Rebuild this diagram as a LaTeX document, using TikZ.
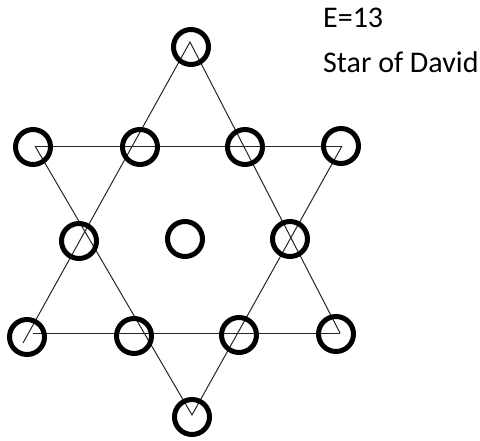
\documentclass[tikz,border=0pt]{standalone}
\usepackage{fontspec}
\setmainfont{Carlito}
\begin{document}
\begin{tikzpicture}[x=1pt,y=-1pt,
  ring/.style={circle,draw=black,line width=5pt,minimum size=35pt,inner sep=0pt},
  edge/.style={draw=black!85,line width=1pt},
  label/.style={anchor=base west,inner sep=0pt,font=\fontsize{30}{36}\selectfont}]
\useasboundingbox[fill=white] (0,0) rectangle (480,440);
% triangle vertices
\coordinate (ua) at (190,42);
\coordinate (ul) at (23,343);
\coordinate (ur) at (340,333);
\coordinate (bl) at (33,333);
\coordinate (dl) at (35,146);
\coordinate (dr) at (342,146);
\coordinate (db) at (192,415);
% star edges
\draw[edge] (ul) -- (ua) -- (ur);
\draw[edge] (bl) -- (ur);
\draw[edge] (dl) -- (dr);
\draw[edge] (dl) -- (db) -- (dr);
% rings
\node[ring] (c1) at (191,47) {};
\node[ring] (c2) at (33,147) {};
\node[ring] (c3) at (140,147) {};
\node[ring] (c4) at (245,147) {};
\node[ring] (c5) at (341,146) {};
\node[ring] (c6) at (79,241) {};
\node[ring] (c7) at (185,239) {};
\node[ring] (c8) at (290,239) {};
\node[ring] (c9) at (27,337) {};
\node[ring] (c10) at (134,336) {};
\node[ring] (c11) at (239,335) {};
\node[ring] (c12) at (336,334) {};
\node[ring] (c13) at (192,417) {};
% text
\node[label] (t1) at (323,27) {E=13};
\node[label] (t2) at (323,72) {Star of David};
\end{tikzpicture}
\end{document}
